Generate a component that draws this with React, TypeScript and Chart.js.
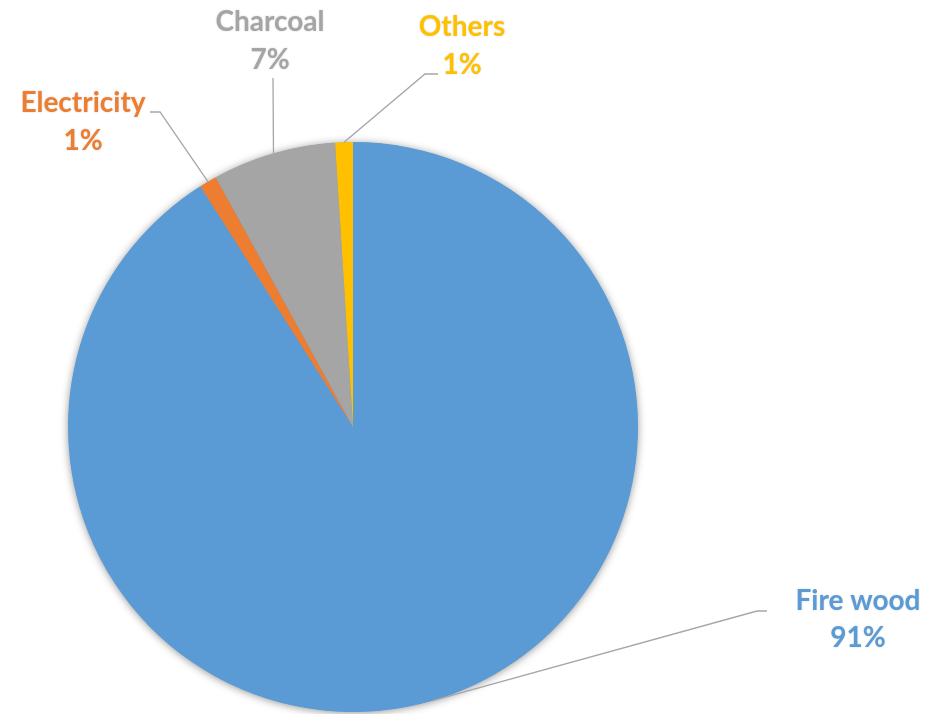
import React, { useEffect, useRef } from "react";
import { Chart, registerables } from "chart.js";

Chart.register(...registerables);

const categories = ["Fire wood", "Electricity", "Charcoal", "Others"];
const values = [91, 1, 7, 1];
const percentLabels = ["91%", "1%", "7%", "1%"];
const colors = ["#5B9BD5", "#ED7D31", "#A5A5A5", "#FFC000"];

// layout of labels (text centre, line gap) and leader-line elbows
const labelLayout = [
  { x: 858, y1: 601, y2: 638, elbow: [757, 611], end: [767, 611] },
  { x: 83, y1: 103, y2: 141, elbow: [160, 112], end: [150, 112] },
  { x: 270, y1: 22, y2: 60, elbow: [273, 78], end: [273, 78] },
  { x: 462, y1: 27, y2: 65, elbow: [425, 74], end: [438, 74] },
];

const shadowPlugin = {
  id: "pieShadow",
  beforeDatasetsDraw(chart: any) {
    const meta = chart.getDatasetMeta(0);
    const arc = meta.data[0];
    if (!arc) return;
    const { x, y, outerRadius } = arc.getProps(["x", "y", "outerRadius"], true);
    const ctx = chart.ctx;
    ctx.save();
    ctx.shadowColor = "rgba(0,0,0,0.45)";
    ctx.shadowBlur = 9;
    ctx.shadowOffsetX = 0;
    ctx.shadowOffsetY = 1;
    ctx.beginPath();
    ctx.arc(x, y, outerRadius - 0.5, 0, Math.PI * 2);
    ctx.fillStyle = colors[0];
    ctx.fill();
    ctx.restore();
  },
};

const labelPlugin = {
  id: "leaderLabels",
  afterDatasetsDraw(chart: any) {
    const ctx = chart.ctx;
    const meta = chart.getDatasetMeta(0);
    meta.data.forEach((el: any, i: number) => {
      const { x, y, outerRadius, startAngle, endAngle } = el.getProps(
        ["x", "y", "outerRadius", "startAngle", "endAngle"],
        true
      );
      const mid = (startAngle + endAngle) / 2;
      const px = x + Math.cos(mid) * outerRadius;
      const py = y + Math.sin(mid) * outerRadius;
      const L = labelLayout[i];
      ctx.save();
      ctx.strokeStyle = "#A6A6A6";
      ctx.lineWidth = 1.3;
      ctx.beginPath();
      ctx.moveTo(px, py);
      ctx.lineTo(L.elbow[0], L.elbow[1]);
      ctx.lineTo(L.end[0], L.end[1]);
      ctx.stroke();
      ctx.restore();

      ctx.save();
      ctx.font = "bold 28px Lato, 'Open Sans', sans-serif";
      ctx.textAlign = "center";
      ctx.textBaseline = "middle";
      ctx.fillStyle = colors[i];
      ctx.shadowColor = "rgba(0,0,0,0.18)";
      ctx.shadowBlur = 2;
      ctx.fillText(categories[i], L.x, L.y1);
      ctx.fillText(percentLabels[i], L.x, L.y2);
      ctx.restore();
    });
  },
};

export default function App() {
  const ref = useRef<HTMLCanvasElement>(null);
  useEffect(() => {
    document.body.style.margin = "0";
    const chart = new Chart(ref.current!, {
      type: "pie",
      data: {
        labels: categories,
        datasets: [
          {
            data: values,
            backgroundColor: colors,
            borderWidth: 0,
          },
        ],
      },
      options: {
        animation: false,
        responsive: false,
        maintainAspectRatio: false,
        layout: { padding: { left: 68, right: 288, top: 142, bottom: 2 } },
        plugins: {
          legend: { display: false },
          tooltip: { enabled: false },
        },
      },
      plugins: [shadowPlugin, labelPlugin],
    });
    return () => chart.destroy();
  }, []);
  return (
    <div style={{ width: 926, height: 714, background: "#fff" }}>
      <canvas ref={ref} width={926} height={714} />
    </div>
  );
}
